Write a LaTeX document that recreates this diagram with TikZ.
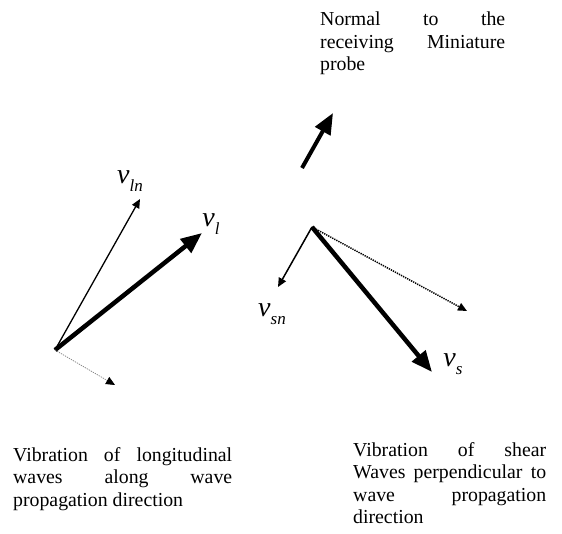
\documentclass[tikz,border=0pt]{standalone}
\usepackage{fontspec}
\setmainfont{Liberation Serif}
\usetikzlibrary{arrows.meta,positioning}
\tolerance=10000
\hbadness=10000
\hyphenpenalty=10000
\newcommand{\vsub}[1]{\textit{v}\raisebox{-0.3em}{\fontsize{17}{17}\selectfont\textit{#1}}}

\begin{document}
\begin{tikzpicture}[x=1pt,y=-1pt,
  note/.style={inner sep=0pt,anchor=north west,align=justify,font=\fontsize{19.8}{22.5}\selectfont},
  vlabel/.style={inner sep=0pt,font=\fontsize{28}{30}\selectfont},
  thin vec/.style={-{Triangle[length=9pt,width=8pt,color=black]},line width=1.3pt},
  thick vec/.style={-{Triangle[length=21pt,width=17pt]},line width=4.5pt}]
\useasboundingbox (0,0) rectangle (562,533);

% longitudinal wave
\coordinate (lo) at (55,350);
\coordinate (ln) at (140,199);
\coordinate (l)  at (202,233);
\coordinate (lp) at (115,385);
\draw[thin vec] (lo) -- (ln);
\draw[thick vec] (lo) -- (l);
\draw[thin vec,gray,densely dotted,line width=0.7pt] (lo) -- (lp);
\node[vlabel] (vln) at (130,181) {\vsub{ln}};
\node[vlabel] (vl)  at (211,224) {\vsub{l}};

% normal to the probe
\coordinate (nb) at (302,168);
\coordinate (nt) at (333,113);
\draw[thick vec,line width=4pt] (nb) -- (nt);

% shear wave
\coordinate (so) at (312,227);
\coordinate (sn) at (278,287);
\coordinate (s)  at (432,372);
\coordinate (sp) at (467,311);
\draw[thin vec,line width=1.5pt] (so) -- (sn);
\draw[thick vec] (so) -- (s);
\draw[thin vec,densely dotted,line width=1.5pt] (so) -- (sp);
\node[vlabel] (vsn) at (272,314) {\vsub{sn}};
\node[vlabel] (vs)  at (453,364) {\vsub{s}};

% captions
\node[note,text width=185pt] (normal) at (320,12) {Normal to the\linebreak receiving Miniature\linebreak probe};
\node[note,text width=219pt] (long) at (13,447) {Vibration of longitudinal\linebreak waves along wave\linebreak propagation direction};
\node[note,text width=193pt] (shear) at (353,442) {Vibration of shear\linebreak Waves perpendicular to\linebreak wave propagation\linebreak direction};
\end{tikzpicture}
\end{document}
